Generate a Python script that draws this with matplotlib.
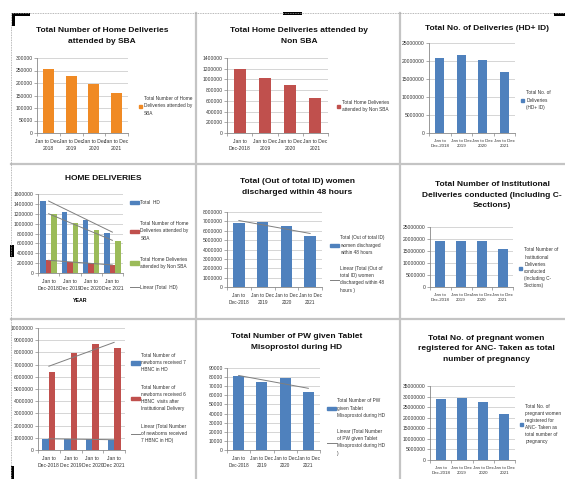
import numpy as np
import matplotlib
matplotlib.use("Agg")
import matplotlib.pyplot as plt
from matplotlib import font_manager
from matplotlib.lines import Line2D
from matplotlib.patches import Patch, Rectangle

installed = {f.name for f in font_manager.fontManager.ttflist}
fam = [f for f in ['Liberation Sans Narrow', 'Liberation Sans', 'DejaVu Sans'] if f in installed]
plt.rcParams['font.family'] = fam

W, H = 565, 479

# data
years_a = ["Jan to Dec-\n2018", "Jan to Dec\n2019", "Jan to Dec\n2020", "Jan to Dec\n2021"]
years_b = ["Jan to\nDec-2018", "Jan to Dec\n2019", "Jan to Dec\n2020", "Jan to Dec\n2021"]
years_c = ["Jan to\nDec-2018", "Jan to\nDec 2019", "Jan to\nDec 2020", "Jan to\nDec 2021"]

hd_sba = [255000, 228000, 197000, 160000]
hd_non_sba = [1200000, 1020000, 890000, 655000]
total_deliveries = [20800000, 21600000, 20400000, 16900000]
total_hd = [1450000, 1240000, 1075000, 805000]
hd_sba_grp = [255000, 228000, 197000, 160000]
hd_non_sba_grp = [1195000, 1010000, 880000, 640000]
discharged_48h = [6800000, 6900000, 6500000, 5400000]
institutional = [19300000, 19300000, 19200000, 16000000]
hbnc_hd = [900000, 920000, 870000, 830000]
hbnc_id = [6400000, 7980000, 8650000, 8350000]
misoprostol = [81000, 75000, 79000, 64000]
anc_registered = [28700000, 29200000, 27400000, 21800000]

BLUE = '#4f81bd'
RED = '#c0504d'
GREEN = '#9bbb59'
ORANGE = '#f08a24'
TREND = '#7f7f7f'
TICK_FS = 3.6
LEG_FS = 3.4

fig = plt.figure(figsize=(W / 100, H / 100), dpi=100)
fig.patch.set_facecolor('white')


def px_axes(l, t, r, b):
    return fig.add_axes([l / W, 1 - b / H, (r - l) / W, (b - t) / H])


def style(ax, ymax, step, labels, xfs=TICK_FS):
    n = len(labels)
    ax.set_xlim(-0.5, n - 0.5)
    ax.set_ylim(0, ymax)
    ax.set_yticks(np.arange(0, ymax + step / 2, step))
    ax.ticklabel_format(axis='y', style='plain', useOffset=False)
    ax.set_xticks(range(n))
    ax.set_xticklabels(labels, fontsize=xfs, color='#333333', linespacing=1.6)
    ax.set_xticks(np.arange(-0.5, n, 1), minor=True)
    ax.tick_params(axis='x', which='major', length=0, pad=4)
    ax.tick_params(axis='x', which='minor', length=2, width=0.5, color='#888888')
    ax.tick_params(axis='y', length=2, width=0.5, color='#888888', labelsize=TICK_FS,
                   labelcolor='#333333', pad=1)
    ax.grid(axis='y', color='#cfcfcf', lw=0.6)
    ax.set_axisbelow(True)
    for s in ['top', 'right']:
        ax.spines[s].set_visible(False)
    for s in ['left', 'bottom']:
        ax.spines[s].set_color('#888888')
        ax.spines[s].set_linewidth(0.6)


def trend(ax, vals, **kw):
    x = np.arange(len(vals))
    k, c = np.polyfit(x, vals, 1)
    return ax.plot(x, k * x + c, color=TREND, lw=0.7, **kw)[0]


def title(x, y, txt):
    fig.text(x / W, 1 - y / H, txt, ha='center', va='center', fontsize=6.0,
             fontweight='bold', linespacing=1.75, color='#111111')


def legend(ax, handles, labels, x, y, hl=0.7, sp=1.2):
    leg = ax.legend(handles, labels, loc='center left', bbox_to_anchor=(x / W, 1 - y / H),
                    bbox_transform=fig.transFigure, frameon=False, fontsize=LEG_FS,
                    handlelength=hl, handleheight=0.7, handletextpad=0.4,
                    labelspacing=sp, borderpad=0, borderaxespad=0)
    for txt in leg.get_texts():
        txt.set_linespacing(1.55)
        txt.set_color('#333333')


x4 = np.arange(4)

# 1 - home deliveries by SBA
ax = px_axes(37, 58, 128, 133)
style(ax, 300000, 50000, years_a)
ax.bar(x4, hd_sba, 0.48, color=ORANGE)
title(102, 36, "Total Number of Home Deliveries\nattended by SBA")
legend(ax, [Patch(color=ORANGE)], ["Total Number of Home\nDeliveries attended by\nSBA"], 139, 106)

# 2 - home deliveries by non SBA
ax = px_axes(227, 58, 328, 133)
style(ax, 1400000, 200000, years_b)
ax.bar(x4, hd_non_sba, 0.48, color=RED)
title(299, 36, "Total Home Deliveries attended by\nNon SBA")
legend(ax, [Patch(color=RED)], ["Total Home Deliveries\nattended by Non SBA"], 337, 106)

# 3 - total deliveries
ax = px_axes(429, 43, 515, 133)
style(ax, 25000000, 5000000, years_b, xfs=3.2)
ax.bar(x4, total_deliveries, 0.4, color=BLUE)
title(487, 28, "Total No. of Deliveries (HD+ ID)")
legend(ax, [Patch(color=BLUE)], ["Total No. of\nDeliveries\n(HD+ ID)"], 521, 100)

# 4 - home deliveries grouped
ax = px_axes(38, 194, 123, 273)
style(ax, 1600000, 200000, years_c)
bw = 0.26
ax.bar(x4 - bw, total_hd, bw, color=BLUE)
ax.bar(x4, hd_sba_grp, bw, color=RED)
ax.bar(x4 + bw, hd_non_sba_grp, bw, color=GREEN)
t = trend(ax, total_hd)
trend(ax, hd_non_sba_grp)
trend(ax, hd_sba_grp)
ax.set_xlabel("YEAR", fontsize=3.8, fontweight='bold', labelpad=5)
title(103, 179, "HOME DELIVERIES")
legend(ax, [Patch(color=BLUE), Patch(color=RED), Patch(color=GREEN), t],
       ["Total  HD", "Total Number of Home\nDeliveries attended by\nSBA",
        "Total Home Deliveries\nattended by Non SBA", "Linear (Total  HD)"],
       130, 245, hl=1.8, sp=3.4)

# 5 - discharged within 48 hours
ax = px_axes(227, 212, 322, 287)
style(ax, 8000000, 1000000, years_b, xfs=3.4)
ax.bar(x4, discharged_48h, 0.48, color=BLUE)
t = trend(ax, discharged_48h)
title(297, 187, "Total (Out of total ID) women\ndischarged within 48 hours")
legend(ax, [Patch(color=BLUE), t],
       ["Total (Out of total ID)\nwomen discharged\nwithin 48 hours",
        "Linear (Total (Out of\ntotal ID) women\ndischarged within 48\nhours )"],
       330, 264, hl=1.8, sp=2.4)

# 6 - institutional deliveries
ax = px_axes(430, 227, 513, 287)
style(ax, 25000000, 5000000, years_b, xfs=3.2)
ax.bar(x4, institutional, 0.48, color=BLUE)
title(492, 195, "Total Number of Institutional\nDeliveries conducted (Including C-\nSections)")
legend(ax, [Patch(color=BLUE)],
       ["Total Number of\nInstitutional\nDeliveries\nconducted\n(Including C-\nSections)"], 519, 268)

# 7 - HBNC newborns
ax = px_axes(38, 328, 125, 450)
style(ax, 10000000, 1000000, years_c)
bw = 0.3
ax.bar(x4 - bw / 2, hbnc_hd, bw, color=BLUE)
ax.bar(x4 + bw / 2, hbnc_id, bw, color=RED)
t = trend(ax, hbnc_hd)
trend(ax, hbnc_id)
legend(ax, [Patch(color=BLUE), Patch(color=RED), t],
       ["Total Number of\nnewborns received 7\nHBNC in HD",
        "Total Number of\nnewborns received 6\nHBNC  visits after\nInstitutional Delivery",
        "Linear (Total Number\nof newborns received\n7 HBNC in HD)"],
       131, 398, hl=1.8, sp=2.6)

# 8 - misoprostol
ax = px_axes(227, 368, 320, 450)
style(ax, 90000, 10000, years_b, xfs=3.4)
ax.bar(x4, misoprostol, 0.48, color=BLUE)
t = trend(ax, misoprostol)
title(297, 342, "Total Number of PW given Tablet\nMisoprostol during HD")
legend(ax, [Patch(color=BLUE), t],
       ["Total Number of PW\ngiven Tablet\nMisoprostol during HD",
        "Linear (Total Number\nof PW given Tablet\nMisoprostol during HD\n)"],
       327, 427, hl=1.8, sp=2.4)

# 9 - ANC registration
ax = px_axes(430, 386, 515, 460)
style(ax, 35000000, 5000000, years_b, xfs=3.2)
ax.bar(x4, anc_registered, 0.48, color=BLUE)
title(486, 349, "Total No. of pregnant women\nregistered for ANC- Taken as total\nnumber of pregnancy")
legend(ax, [Patch(color=BLUE)],
       ["Total No. of\npregnant women\nregistered for\nANC- Taken as\ntotal number of\npregnancy"], 520, 424)

# panel separators and page marks
def fline(x0, y0, x1, y1, **kw):
    fig.add_artist(Line2D([x0 / W, x1 / W], [1 - y0 / H, 1 - y1 / H], **kw))

sep = dict(color='#c4c4c4', lw=1.6)
fline(11, 164, 565, 164, **sep)
fline(11, 319, 565, 319, **sep)
fline(196, 13, 196, 479, **sep)
fline(400, 13, 400, 479, **sep)
dash = dict(color='#a0a0a0', lw=0.6, ls=(0, (1, 1)))
fline(11, 13, 565, 13, **dash)
fline(11, 13, 11, 479, **dash)

def blk(l, t, r, b):
    fig.add_artist(Rectangle((l / W, 1 - b / H), (r - l) / W, (b - t) / H,
                             transform=fig.transFigure, color='black', lw=0))

blk(12, 13, 30, 16)
blk(12, 13, 15, 26)
blk(283, 12, 302, 15)
blk(554, 13, 565, 16)
blk(10, 245, 14, 257)
blk(11, 466, 14, 479)

fig.savefig("out.png", dpi=100, facecolor='white')
